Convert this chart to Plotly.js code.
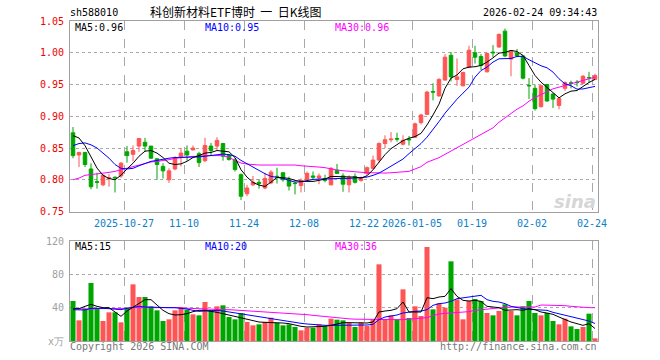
<!DOCTYPE html>
<html>
<head>
<meta charset="utf-8">
<script src="https://cdn.plot.ly/plotly-3.0.1.min.js"></script>
<style>
html,body{margin:0;padding:0;background:#fff;}
#chart{width:660px;height:360px;}
</style>
</head>
<body>
<div id="chart"></div>
<script>
// ---------- DATA ----------
const dates = [
'2025-10-14','2025-10-15','2025-10-16','2025-10-17','2025-10-20','2025-10-21','2025-10-22','2025-10-23','2025-10-24',
'2025-10-27','2025-10-28','2025-10-29','2025-10-30','2025-10-31',
'2025-11-03','2025-11-04','2025-11-05','2025-11-06','2025-11-07',
'2025-11-10','2025-11-11','2025-11-12','2025-11-13','2025-11-14',
'2025-11-17','2025-11-18','2025-11-19','2025-11-20','2025-11-21',
'2025-11-24','2025-11-25','2025-11-26','2025-11-27','2025-11-28',
'2025-12-01','2025-12-02','2025-12-03','2025-12-04','2025-12-05',
'2025-12-08','2025-12-09','2025-12-10','2025-12-11','2025-12-12',
'2025-12-15','2025-12-16','2025-12-17','2025-12-18','2025-12-19',
'2025-12-22','2025-12-23','2025-12-24','2025-12-25','2025-12-26',
'2025-12-29','2025-12-30','2025-12-31',
'2026-01-05','2026-01-06','2026-01-07','2026-01-08','2026-01-09',
'2026-01-12','2026-01-13','2026-01-14','2026-01-15','2026-01-16',
'2026-01-19','2026-01-20','2026-01-21','2026-01-22','2026-01-23',
'2026-01-26','2026-01-27','2026-01-28','2026-01-29','2026-01-30',
'2026-02-02','2026-02-03','2026-02-04','2026-02-05','2026-02-06',
'2026-02-09','2026-02-10','2026-02-11','2026-02-12','2026-02-13',
'2026-02-24'];

const tickDates  = ['2025-10-27','2025-11-10','2025-11-24','2025-12-08','2025-12-22','2026-01-05','2026-01-19','2026-02-02','2026-02-24'];
const tickLabels = ['2025-10-27','11-10','11-24','12-08','12-22','2026-01-05','01-19','02-02','02-24'];

const open = [0.874,0.839,0.843,0.817,0.797,0.792,0.802,0.804,0.806,0.844,
0.840,0.853,0.859,0.853,0.833,0.821,0.800,0.817,0.835,0.845,
0.847,0.841,0.830,0.853,0.853,0.857,0.839,0.831,0.808,0.778,
0.792,0.796,0.787,0.795,0.8055,0.811,0.800,0.7945,0.791,0.800,
0.806,0.803,0.802,0.792,0.815,0.806,0.792,0.805,0.799,0.810,
0.818,0.831,0.857,0.863,0.865,0.856,0.864,0.867,0.890,0.903,
0.939,0.932,0.957,0.996,0.958,0.948,0.977,1.000,0.994,0.970,
1.001,1.009,1.034,0.990,0.9995,0.995,0.9485,0.944,0.915,0.950,
0.935,0.917,0.944,0.9526,0.9537,0.952,0.961,0.958];

const high = [0.883,0.844,0.844,0.826,0.811,0.809,0.809,0.805,0.828,0.853,
0.854,0.865,0.866,0.853,0.833,0.826,0.818,0.837,0.850,0.854,
0.854,0.844,0.866,0.858,0.867,0.858,0.840,0.834,0.810,0.792,
0.806,0.801,0.811,0.815,0.819,0.812,0.805,0.797,0.802,0.813,
0.813,0.810,0.808,0.820,0.825,0.810,0.807,0.810,0.805,0.821,
0.838,0.859,0.870,0.875,0.874,0.870,0.869,0.890,0.904,0.940,
0.952,0.960,0.998,1.001,0.991,0.970,1.011,1.011,0.998,1.000,
1.012,1.030,1.038,1.004,1.006,0.996,0.960,0.950,0.949,0.951,
0.936,0.929,0.955,0.956,0.957,0.965,0.970,0.967];

const low = [0.834,0.820,0.820,0.785,0.786,0.790,0.789,0.780,0.803,0.827,
0.829,0.844,0.844,0.833,0.800,0.802,0.795,0.815,0.821,0.830,
0.846,0.820,0.828,0.838,0.847,0.830,0.830,0.813,0.768,0.774,
0.790,0.786,0.785,0.793,0.794,0.797,0.783,0.777,0.780,0.799,
0.800,0.793,0.796,0.791,0.810,0.781,0.780,0.794,0.797,0.807,
0.816,0.827,0.850,0.859,0.860,0.854,0.854,0.866,0.887,0.902,
0.925,0.931,0.956,0.955,0.948,0.947,0.977,0.983,0.973,0.969,
0.993,1.008,0.993,0.963,0.993,0.958,0.927,0.909,0.914,0.923,
0.913,0.911,0.940,0.944,0.947,0.951,0.953,0.957];

const close = [0.838,0.843,0.824,0.789,0.796,0.807,0.803,0.803,0.826,0.838,
0.846,0.865,0.853,0.834,0.824,0.814,0.814,0.834,0.842,0.839,
0.850,0.827,0.854,0.846,0.862,0.837,0.832,0.816,0.774,0.787,
0.796,0.794,0.802,0.812,0.805,0.800,0.790,0.794,0.799,0.810,
0.804,0.806,0.799,0.818,0.810,0.793,0.804,0.796,0.803,0.819,
0.831,0.857,0.863,0.864,0.864,0.862,0.863,0.888,0.902,0.938,
0.938,0.958,0.993,0.962,0.962,0.969,1.004,0.993,0.980,0.999,
1.000,1.029,0.995,1.003,0.995,0.960,0.948,0.912,0.948,0.924,
0.927,0.928,0.953,0.952,0.953,0.963,0.9605,0.964];

const ma5 = [0.8695,0.8658,0.8537,0.8358,0.8184,0.8069,0.802,0.800,0.807,0.817,
0.826,0.837,0.845,0.846,0.842,0.835,0.826,0.824,0.825,0.829,
0.835,0.838,0.842,0.843,0.846,0.845,0.844,0.835,0.8158,0.8042,
0.7958,0.7916,0.7895,0.7963,0.8037,0.8032,0.8021,0.799,0.7974,0.7974,
0.7974,0.799,0.8011,0.8053,0.8053,0.8053,0.8042,0.8042,0.8026,0.8063,
0.8158,0.8274,0.8395,0.849,0.8553,0.8616,0.8653,0.868,0.873,0.8863,
0.902,0.919,0.944,0.960,0.965,0.9747,0.9774,0.978,0.980,0.9853,
0.992,0.9995,1.0005,1.0037,1.002,0.9958,0.980,0.9642,0.9537,0.9458,
0.938,0.929,0.9353,0.9395,0.9405,0.9474,0.9532,0.958];

const ma10 = [0.8537,0.857,0.858,0.855,0.850,0.842,0.834,0.824,0.818,0.817,
0.818,0.822,0.826,0.829,0.8305,0.8326,0.834,0.835,0.835,0.836,
0.836,0.836,0.837,0.838,0.8395,0.8405,0.8395,0.837,0.8305,0.8253,
0.819,0.8137,0.8095,0.8053,0.8042,0.8021,0.799,0.7963,0.7968,0.799,
0.8005,0.8011,0.8016,0.8021,0.8021,0.8021,0.8021,0.8026,0.8026,0.8042,
0.8069,0.8105,0.8158,0.8211,0.8263,0.8326,0.8411,0.8485,0.857,0.867,
0.8785,0.8916,0.9048,0.9164,0.9269,0.9364,0.9458,0.9616,0.972,0.9774,
0.9853,0.9905,0.9905,0.991,0.9942,0.9942,0.989,0.9837,0.9795,0.9763,
0.9695,0.959,0.951,0.948,0.9427,0.943,0.9445,0.947];

const ma30 = [0.800,0.8026,0.807,0.808,0.809,0.8105,0.8116,0.8132,0.8158,0.8184,
0.821,0.8237,0.8263,0.828,0.829,0.830,0.8316,0.8337,0.835,0.8363,
0.8368,0.8368,0.838,0.838,0.838,0.838,0.835,0.8305,0.8263,0.8247,
0.8237,0.8232,0.8232,0.8232,0.8232,0.8232,0.8232,0.8232,0.822,0.8216,
0.821,0.820,0.819,0.8168,0.8153,0.8142,0.8132,0.8121,0.8116,0.811,
0.811,0.8105,0.8105,0.811,0.8121,0.8126,0.8132,0.817,0.8206,0.8275,
0.8311,0.8348,0.840,0.8453,0.8495,0.8548,0.8606,0.8659,0.8706,0.8759,
0.8817,0.8906,0.8974,0.9053,0.9111,0.9164,0.9237,0.9295,0.9343,0.9395,
0.9432,0.9458,0.9484,0.9511,0.9542,0.9563,0.959,0.9616];

const volume = [48,24.8,38.8,69.6,38.8,24,34.4,34.4,22.4,40,
68,52.8,52.8,41.6,36.8,24,26,36.8,40.8,37.6,
32,30.8,46.8,36.8,41.6,42.8,28.8,26,33.6,22.8,
18.8,20,22.8,28,21.6,18.8,20,16.8,12.8,16,
16,20,17.6,26.8,25.6,24.8,21.6,16.8,22.4,18,
26,92,26,30.8,26,62,27.6,41.6,30,112.8,
38,45.2,40,95.6,50,26,48,50.4,48,33.6,
30.8,36,44,36,30.8,41.6,48,33.6,30.8,33.6,
24,20,26.8,17.6,14.4,16.8,32.8,3.2];

const volMa5 = [38.8,38.8,41.6,44,41.6,40,40,34.8,29.6,36,
40.8,45.6,49.6,49.6,42.8,36.8,32.8,31.2,31.6,32.8,
35.2,36.8,36.8,36,34.4,32.8,31.2,29.6,27.2,25.6,
24,22.8,22.4,22.4,22,21.6,20.8,18.8,17.6,16.8,
16.8,16.8,17.6,18.8,20,22,22,21.6,21.6,21.6,
22.8,34.8,36,36.8,38.8,46.8,34.8,34.8,34.8,52,
50.8,52.8,53.6,62.8,53.6,48.8,48,48.8,47.6,41.6,
40.8,40,36.8,37.6,37.6,36.8,38.8,37.6,34.8,33.6,
32,28.8,25.6,22.8,20.8,18.8,20.8,15];

const volMa10 = [37.6,37.2,37.2,39.2,39.6,39.2,38.8,38,37.6,39.2,
40.8,41.6,40.8,40.4,40,40,40,40,39.6,38.4,
36.8,35.6,36,36.4,36.8,36,34.8,33.6,32.4,31.2,
30,28.8,27.6,26.4,25.6,24.4,23.2,22.4,21.2,20.4,
19.6,19.2,18.8,18.8,18.8,18.8,19.2,19.2,19.2,19.2,
20,25.6,28.8,30,31.2,33.6,34.8,35.6,36,37.6,
42.8,44.8,45.6,47.6,50.8,52,52.8,53.6,54.8,49.6,
47.6,46.8,44.8,41.6,40,38.8,38,37.6,36.8,36.8,
34.4,32.8,30.4,28.8,27.6,26.4,24,21];

const volMa30 = [38.8,38.4,38.4,38.4,38.8,38.8,38.8,38.8,38.4,39.2,
40,40,40.4,40.4,40.8,40.4,40,40,39.6,39.2,
38.8,38.4,38,37.6,37.6,37.6,37.6,37.2,36.8,36.4,
36,35.6,35.2,34.8,34.4,34,33.6,33.2,32.4,31.6,
30.8,30,29.2,28.8,28,27.2,26.6,26.2,26,25.8,
25.6,25.6,25.6,25.6,25.6,25.6,26,26.4,26.8,28,
30.4,32.4,33.2,33.6,33.6,34,35.2,36.8,37.6,38.8,
39.6,40,40.4,40.8,40.8,40.8,40.8,40.8,43.2,43.2,
43.2,43.2,42.4,41.6,40.8,40.8,40,40];

const priceTicks = [0.75,0.80,0.85,0.90,0.95,1.00,1.05];
const volTicks = [0,40,80,120];
const volTickText = ['x万','40','80','120'];

// ---------- STYLE ----------
const RED = '#ff5454';
const GREEN = '#00a600';
const MONO = 'DejaVu Sans Mono, Liberation Mono, monospace';

const idx = dates.map((d, i) => i);
const tickPos = tickDates.map(d => dates.indexOf(d) - 0.5);
const volColors = close.map((c, i) => c >= open[i] ? RED : GREEN);

const L = 70, R = 598, T = 21, B = 341;
const W = R - L, H = B - T;
const px = x => (x - L) / W;
const py = y => (B - y) / H;

const traces = [
  {type:'candlestick', x: idx, open: open, high: high, low: low, close: close,
   xaxis:'x', yaxis:'y', whiskerwidth: 0, hoverinfo:'skip',
   increasing:{line:{color:RED, width:1}, fillcolor:RED},
   decreasing:{line:{color:GREEN, width:1}, fillcolor:GREEN}},
  {type:'scatter', mode:'lines', x: idx, y: ma30, xaxis:'x', yaxis:'y', line:{color:'#ff00ff', width:1}, hoverinfo:'skip'},
  {type:'scatter', mode:'lines', x: idx, y: ma10, xaxis:'x', yaxis:'y', line:{color:'#0000ff', width:1}, hoverinfo:'skip'},
  {type:'scatter', mode:'lines', x: idx, y: ma5, xaxis:'x', yaxis:'y', line:{color:'#000000', width:1}, hoverinfo:'skip'},
  {type:'bar', x: idx, y: volume, xaxis:'x2', yaxis:'y2', width: 0.84,
   marker:{color: volColors, line:{width:0}}, hoverinfo:'skip'},
  {type:'scatter', mode:'lines', x: idx, y: volMa30, xaxis:'x2', yaxis:'y2', line:{color:'#ff00ff', width:1}, hoverinfo:'skip'},
  {type:'scatter', mode:'lines', x: idx, y: volMa10, xaxis:'x2', yaxis:'y2', line:{color:'#0000ff', width:1}, hoverinfo:'skip'},
  {type:'scatter', mode:'lines', x: idx, y: volMa5, xaxis:'x2', yaxis:'y2', line:{color:'#000000', width:1}, hoverinfo:'skip'}
];

const gridX = {showgrid:true, gridcolor:'#a8a8a8', griddash:'dash', gridwidth:1,
  showline:true, mirror:true, linecolor:'#a0a0a0', linewidth:1, zeroline:false,
  range:[-0.5, dates.length - 0.5], tickmode:'array', tickvals: tickPos, ticks:'', fixedrange:true};

function ann(text, x, y, xanchor, color, size, extra) {
  return Object.assign({text: text, xref:'paper', yref:'paper', x: px(x), y: py(y),
    xanchor: xanchor, yanchor:'middle', showarrow:false, borderpad:0,
    font:{family: MONO, size: size || 10, color: color}}, extra || {});
}

const layout = {
  width: 660, height: 360,
  margin:{l: L, r: 660 - R, t: T, b: 360 - B, pad: 0},
  paper_bgcolor:'#ffffff', plot_bgcolor:'#ffffff',
  showlegend:false, boxgap: 0.16, bargap: 0.16,
  xaxis: Object.assign({}, gridX, {anchor:'y', domain:[0,1], ticktext: tickLabels,
    rangeslider:{visible:false}, ticklabelstandoff: 2,
    tickfont:{family: MONO, size: 10, color:'#0a80c8'}}),
  yaxis: {anchor:'x', domain:[(B - 211.5) / H, 1], range:[0.75, 1.05], tickmode:'array',
    tickvals: priceTicks, ticktext: priceTicks.map(v => v.toFixed(2)),
    showgrid:true, gridcolor:'#a8a8a8', griddash:'dot', zeroline:false, ticks:'',
    showline:true, mirror:true, linecolor:'#a0a0a0', ticklabelstandoff: 3,
    tickfont:{family: MONO, size: 10, color:'#ee0000'}, fixedrange:true},
  xaxis2: Object.assign({}, gridX, {anchor:'y2', domain:[0,1], showticklabels:false}),
  yaxis2: {anchor:'x2', domain:[0, 100 / H], range:[0, 120], tickmode:'array',
    tickvals: volTicks, ticktext: volTickText,
    showgrid:true, gridcolor:'#a8a8a8', griddash:'dot', zeroline:false, ticks:'',
    showline:true, mirror:true, linecolor:'#a0a0a0', ticklabelstandoff: 3,
    tickfont:{family: MONO, size: 10, color:'#a0a0a0'}, fixedrange:true},
  annotations: [
    ann('sh588010', 69, 12.5, 'left', '#000'),
    ann('科创新材料ETF博时\u00a0\u00a0一\u00a0\u00a0日K线图', 149, 11.5, 'left', '#000', 12,
      {font:{family:'Noto Sans CJK SC', size:12, color:'#000'}}),
    ann('2026-02-24 09:34:43', 598, 12.5, 'right', '#000'),
    ann('MA5:0.96', 74, 27, 'left', '#000'),
    ann('MA10:0.95', 204, 27, 'left', '#0000ff'),
    ann('MA30:0.96', 334, 27, 'left', '#ff00ff'),
    ann('MA5:15', 74, 246, 'left', '#000'),
    ann('MA10:20', 204, 246, 'left', '#0000ff'),
    ann('MA30:36', 334, 246, 'left', '#ff00ff'),
    ann('Copyright 2026 SINA.COM', 69, 346, 'left', '#777'),
    ann('http://finance.sina.com.cn', 598, 346, 'right', '#777'),
    ann('sina', 597, 201, 'right', '#d8d8d8', 18,
      {font:{family:'DejaVu Sans', size:18, color:'#d6d6d6', weight:'bold', style:'italic'}})
  ]
};

Plotly.newPlot('chart', traces, layout, {staticPlot:true, displayModeBar:false});
</script>
</body>
</html>
